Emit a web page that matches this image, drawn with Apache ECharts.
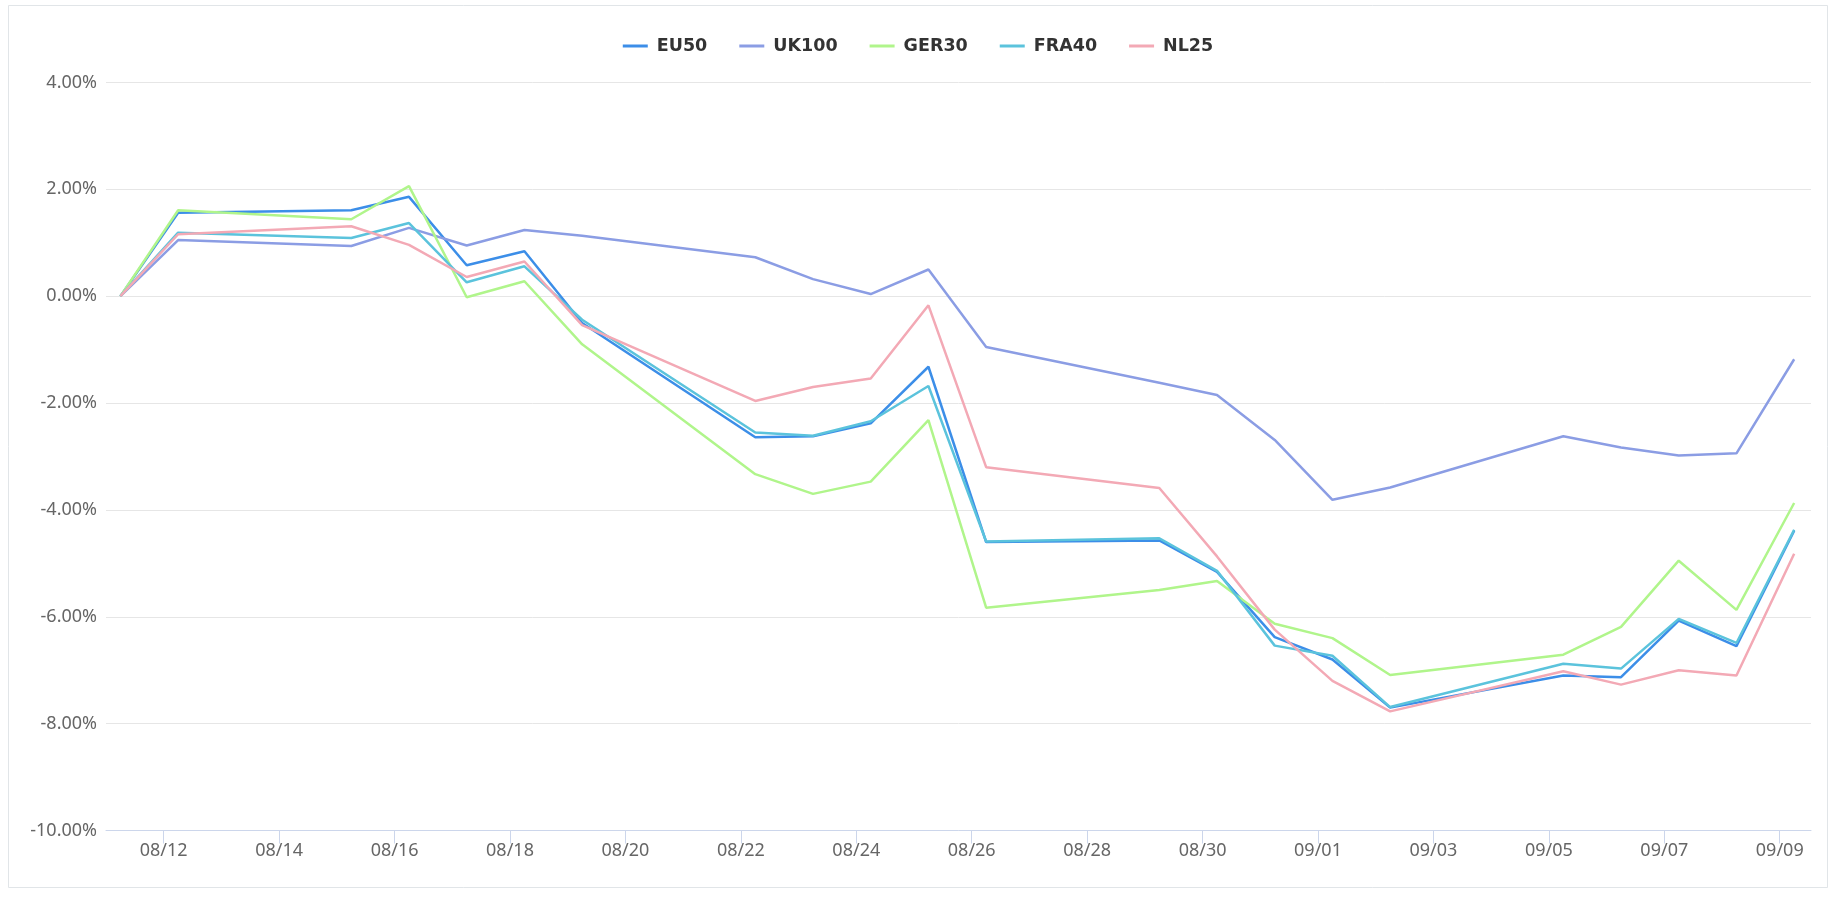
<!DOCTYPE html>
<html>
<head>
<meta charset="utf-8">
<script src="https://cdn.jsdelivr.net/npm/echarts@6/dist/echarts.min.js"></script>
<style>
  html, body { margin: 0; padding: 0; background: #ffffff; }
  #chart { width: 1836px; height: 898px; }
</style>
</head>
<body>
<div id="chart"></div>
<script>
// ---- data ----
const dates = ['2022-08-11','2022-08-12','2022-08-15','2022-08-16','2022-08-17','2022-08-18','2022-08-19',
  '2022-08-22','2022-08-23','2022-08-24','2022-08-25','2022-08-26',
  '2022-08-29','2022-08-30','2022-08-31','2022-09-01','2022-09-02',
  '2022-09-05','2022-09-06','2022-09-07','2022-09-08','2022-09-09'];
const seriesNames = ['EU50', 'UK100', 'GER30', 'FRA40', 'NL25'];
const eu50  = [0, 1.56, 1.61, 1.86, 0.58, 0.84, -0.50, -2.64, -2.62, -2.38, -1.32, -4.60, -4.57, -5.16, -6.38, -6.80, -7.70, -7.10, -7.13, -6.07, -6.55, -4.39];
const uk100 = [0, 1.05, 0.94, 1.28, 0.95, 1.24, 1.13, 0.73, 0.32, 0.04, 0.50, -0.95, -1.62, -1.85, -2.69, -3.81, -3.58, -2.62, -2.83, -2.98, -2.94, -1.18];
const ger30 = [0, 1.61, 1.44, 2.06, -0.02, 0.28, -0.90, -3.33, -3.70, -3.47, -2.32, -5.83, -5.50, -5.33, -6.13, -6.40, -7.09, -6.71, -6.19, -4.95, -5.87, -3.87];
const fra40 = [0, 1.19, 1.09, 1.37, 0.26, 0.56, -0.44, -2.55, -2.61, -2.34, -1.68, -4.59, -4.53, -5.14, -6.54, -6.73, -7.69, -6.88, -6.97, -6.04, -6.49, -4.37];
const nl25  = [0, 1.16, 1.31, 0.96, 0.36, 0.65, -0.54, -1.96, -1.70, -1.54, -0.17, -3.20, -3.59, -4.87, -6.24, -7.20, -7.77, -7.02, -7.27, -7.00, -7.10, -4.82];
const tickDates = ['2022-08-12','2022-08-14','2022-08-16','2022-08-18','2022-08-20','2022-08-22','2022-08-24',
  '2022-08-26','2022-08-28','2022-08-30','2022-09-01','2022-09-03','2022-09-05','2022-09-07','2022-09-09'];
const yTicks = [-10, -8, -6, -4, -2, 0, 2, 4];
const xStart = '2022-08-11T00:00:00Z';
const xEnd = '2022-09-09T13:00:00Z';
const sampleTime = 'T06:00:00Z';

// ---- build ----
const colors = ['#3c8ee8', '#8b9de4', '#b0f58b', '#5bc3dc', '#f3a9b5'];
const valuesList = [eu50, uk100, ger30, fra40, nl25];
const ms = s => new Date(s).getTime();
const pad = n => (n < 10 ? '0' : '') + n;
const fmtDate = v => { const d = new Date(v); return pad(d.getUTCMonth() + 1) + '/' + pad(d.getUTCDate()); };
const tickMs = tickDates.map(d => ms(d + 'T00:00:00Z'));

const series = seriesNames.map((name, i) => ({
  name: name,
  type: 'line',
  showSymbol: false,
  symbol: 'none',
  lineStyle: { width: 2.5, color: colors[i] },
  itemStyle: { color: colors[i] },
  data: dates.map((d, j) => [ms(d + sampleTime), valuesList[i][j]])
}));

const chart = echarts.init(document.getElementById('chart'), null, { renderer: 'canvas' });
chart.setOption({
  animation: false,
  color: colors,
  backgroundColor: '#ffffff',
  graphic: [{
    type: 'rect',
    shape: { x: 8.5, y: 5.5, width: 1819, height: 882 },
    style: { fill: 'none', stroke: '#e1e5e8', lineWidth: 1 },
    silent: true, z: -10
  }],
  legend: {
    data: seriesNames,
    top: 31,
    left: 'center',
    itemWidth: 25,
    itemHeight: 3,
    itemGap: 32,
    icon: 'rect',
    textStyle: {
      fontFamily: 'DejaVu Sans',
      fontWeight: 'bold',
      fontSize: 17.5,
      color: '#333333',
      padding: [0, 0, 0, 4],
      lineHeight: 20
    }
  },
  grid: { left: 106, right: 25, top: 82.5, bottom: 67.5, containLabel: false },
  xAxis: {
    type: 'value',
    min: ms(xStart),
    max: ms(xEnd),
    scale: true,
    axisLine: { show: true, onZero: false, lineStyle: { color: '#ccd6eb', width: 1 } },
    axisTick: { show: true, length: 13, lineStyle: { color: '#ccd6eb', width: 1 }, customValues: tickMs },
    axisLabel: {
      customValues: tickMs,
      formatter: v => fmtDate(v),
      color: '#666666',
      fontFamily: 'Noto Sans',
      fontSize: 18,
      margin: 11,
      hideOverlap: false,
      showMinLabel: true,
      showMaxLabel: true
    },
    splitLine: { show: false }
  },
  yAxis: {
    type: 'value',
    min: yTicks[0],
    max: yTicks[yTicks.length - 1],
    interval: 2,
    axisLine: { show: false },
    axisTick: { show: false },
    axisLabel: {
      formatter: v => v.toFixed(2) + '%',
      color: '#666666',
      fontFamily: 'Noto Sans',
      fontSize: 18,
      margin: 9
    },
    splitLine: { show: true, lineStyle: { color: '#e6e6e6', width: 1 } }
  },
  series: series
});
</script>
</body>
</html>
